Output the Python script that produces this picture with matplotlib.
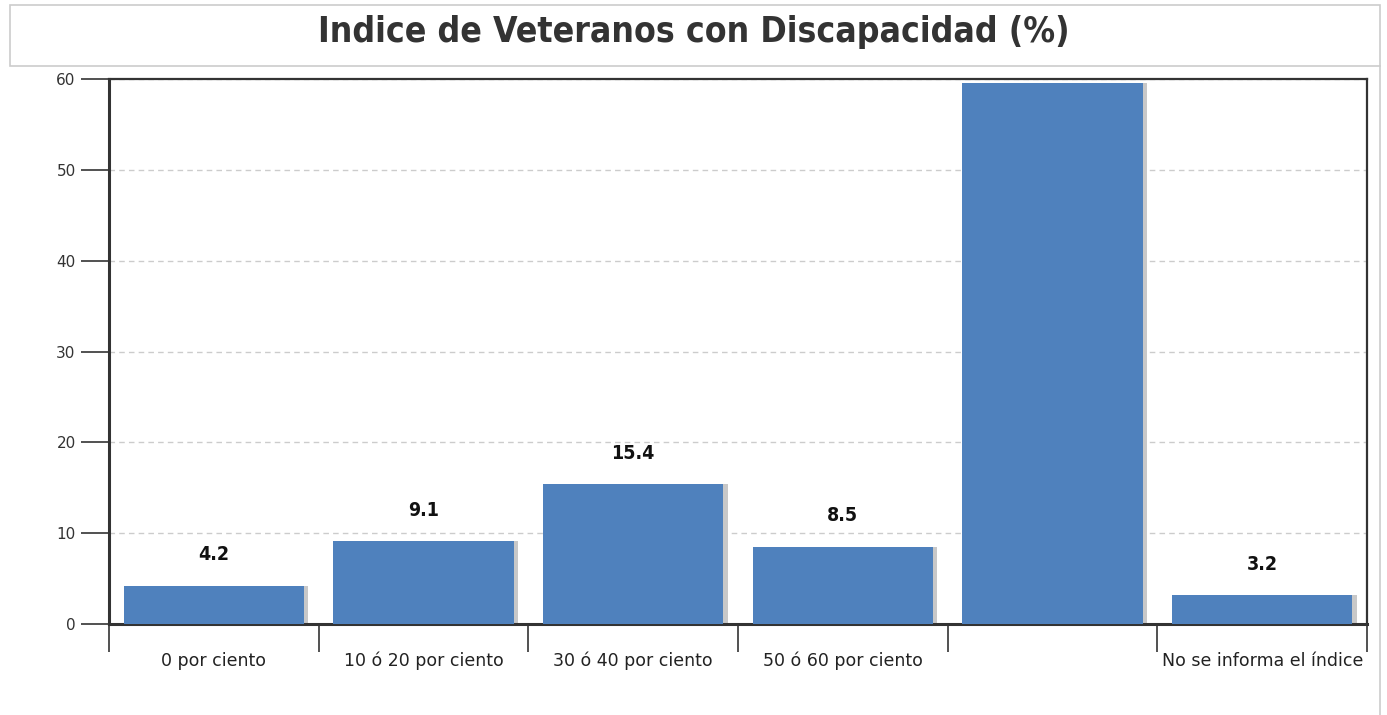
import matplotlib
matplotlib.use("Agg")
import matplotlib.pyplot as plt
from matplotlib.patches import Rectangle
from matplotlib.lines import Line2D
import numpy as np

categories = ["0 por ciento", "10 ó 20 por ciento", "30 ó 40 por ciento",
              "50 ó 60 por ciento", "", "No se informa el índice"]
values = [4.2, 9.1, 15.4, 8.5, 59.6, 3.2]
yticks = [0, 10, 20, 30, 40, 50, 60]
title = "Indice de Veteranos con Discapacidad (%)"

BAR = "#4f81bd"

fig = plt.figure(figsize=(13.87, 7.15), dpi=100)
ax = fig.add_axes([0.0786, 0.1273, 0.907, 0.762])

x = np.arange(len(values))
ax.bar(x + 0.02, values, width=0.86, color="#c8c8c8", zorder=2)
ax.bar(x, values, width=0.86, color=BAR, zorder=3)

for xi, v in zip(x, values):
    ax.text(xi, v + 3.4, f"{v}", ha="center", va="center", fontsize=14,
            fontweight="bold", fontstretch="condensed", color="#111111", zorder=5,
            clip_on=False)

ax.set_xlim(-0.5, len(values) - 0.5)
ax.set_ylim(0, 60)
ax.set_yticks(yticks)
ax.set_yticklabels([str(t) for t in yticks], fontsize=11, color="#333333")
ax.tick_params(axis="y", length=20, width=1.2, color="#333333", pad=4)

ax.set_xticks(np.arange(-0.5, len(values), 1.0))
ax.set_xticklabels([])
ax.tick_params(axis="x", length=20, width=1.2, color="#333333")
ax.set_xticks(x, minor=True)
ax.set_xticklabels(categories, minor=True, fontsize=12.5, color="#222222")
ax.tick_params(axis="x", which="minor", length=0, pad=20)

ax.grid(axis="y", linestyle=(0, (4, 3)), color="#cccccc", linewidth=1, zorder=0)
for s in ax.spines.values():
    s.set_color("#333333")
    s.set_linewidth(1.6)
ax.spines["left"].set_linewidth(2.2)
ax.spines["bottom"].set_linewidth(2.2)

fig.patches.append(Rectangle((10 / 1387, 1 - 66 / 715), 1370 / 1387, 61 / 715,
                             transform=fig.transFigure, facecolor="white",
                             edgecolor="#cccccc", linewidth=1.2, zorder=0))
fig.text(0.5, 1 - 32 / 715, title, ha="center", va="center", fontsize=25.5,
         fontweight="bold", fontstretch="condensed", color="#333333")
fig.lines.append(Line2D([1380 / 1387, 1380 / 1387], [0, 1 - 66 / 715],
                        transform=fig.transFigure, color="#cccccc", linewidth=1.2))

fig.savefig("out.png", dpi=100)
